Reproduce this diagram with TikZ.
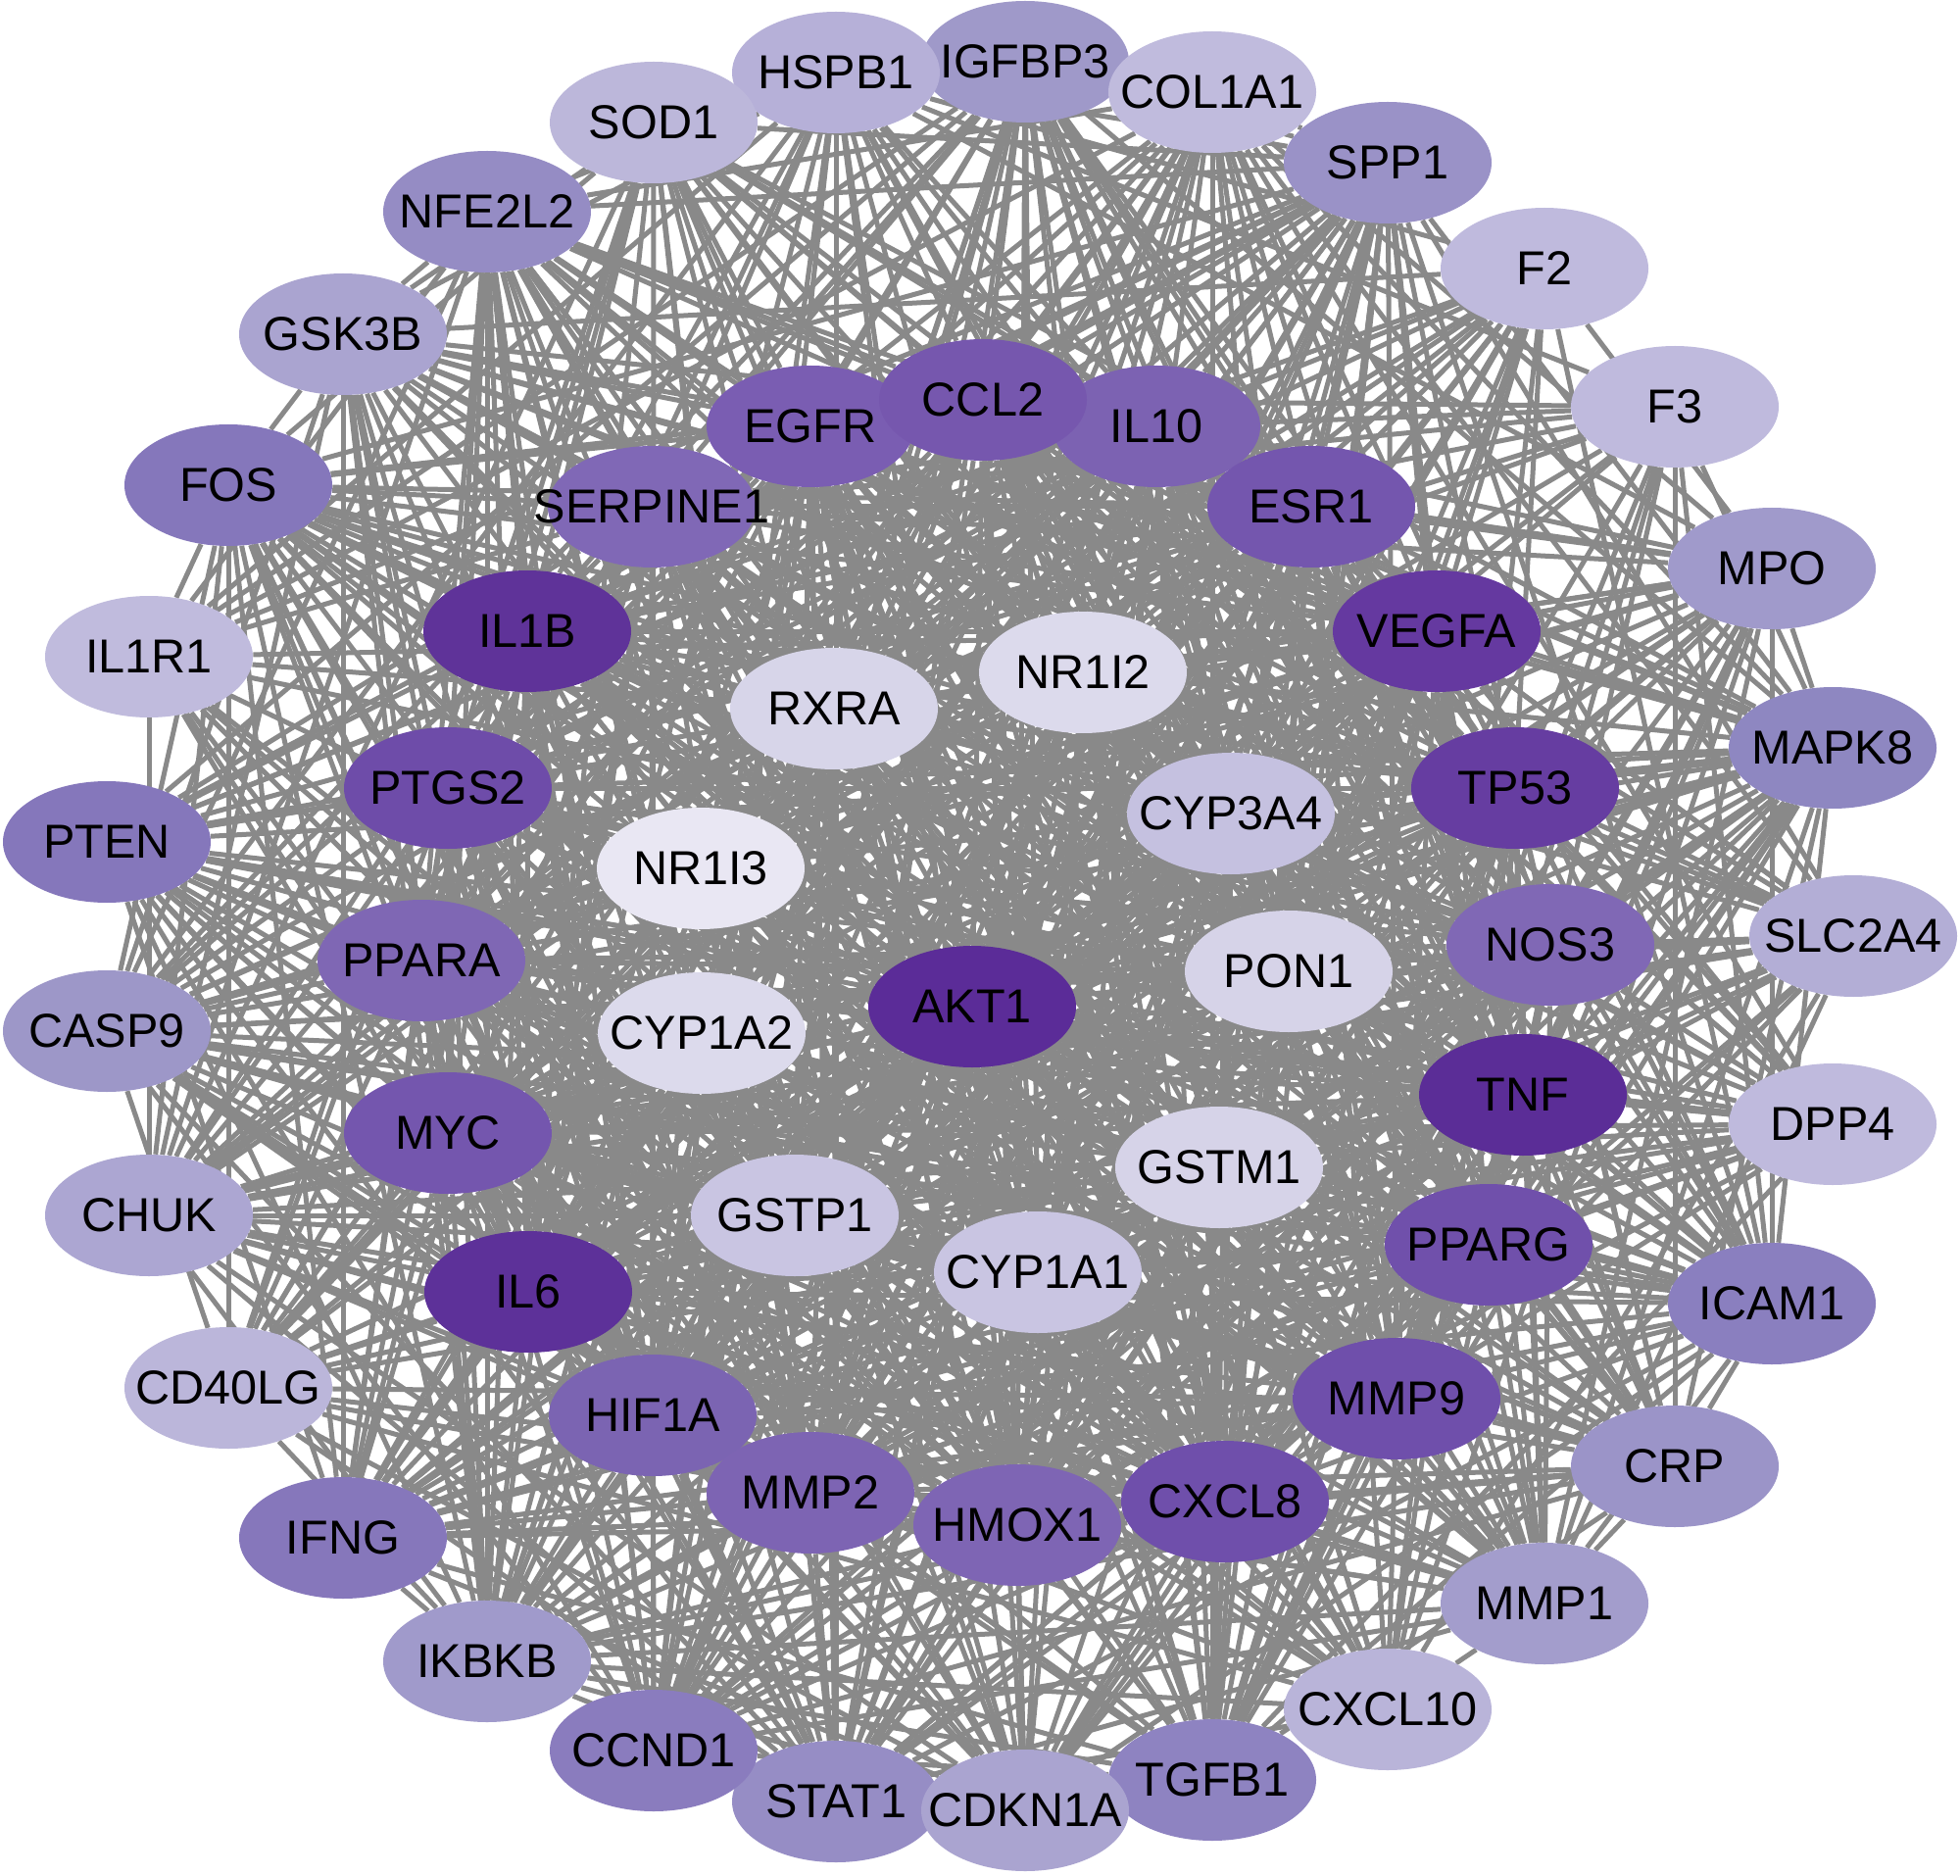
\documentclass[tikz,border=0pt]{standalone}
\usepackage{fontspec}
\setmainfont{Liberation Sans}
\usetikzlibrary{shapes.geometric}
\pgfdeclarelayer{bgfill}
\pgfdeclarelayer{edges}
\pgfsetlayers{bgfill,edges,main}
\tikzset{
  gn/.style={ellipse, minimum width=106pt, minimum height=62pt, inner sep=0pt,
    draw=none, font=\fontsize{24.3}{29}\selectfont, text=black},
  edge/.style={draw=edgegray, line width=2.5pt}
}
\definecolor{edgegray}{HTML}{898989}
\newcommand\gnode[4]{\definecolor{col#1}{HTML}{#4}\node[gn,fill=col#1] (#1) at (#2,#3) {\makebox[0pt]{#1}};}
\def\nodelist{AKT1/1.0,TNF/1.0,IL6/1.0,IL1B/1.0,VEGFA/1.0,TP53/1.0,PTGS2/0.98,CXCL8/0.98,MMP9/0.98,PPARG/0.97,ESR1/0.96,CCL2/0.96,EGFR/0.96,IL10/0.96,MYC/0.96,HIF1A/0.95,NOS3/0.94,SERPINE1/0.93,MMP2/0.93,HMOX1/0.93,PPARA/0.92,FOS/0.84,PTEN/0.84,CCND1/0.84,IFNG/0.84,TGFB1/0.82,ICAM1/0.82,STAT1/0.8,NFE2L2/0.8,SPP1/0.78,MAPK8/0.78,IGFBP3/0.76,CRP/0.76,MMP1/0.74,IKBKB/0.74,CASP9/0.72,MPO/0.7,GSK3B/0.68,CHUK/0.66,HSPB1/0.66,CDKN1A/0.66,CXCL10/0.62,SLC2A4/0.55,COL1A1/0.6,SOD1/0.6,IL1R1/0.55,CD40LG/0.58,F2/0.5,F3/0.5,DPP4/0.52,CYP3A4/0.6,CYP1A1/0.6,GSTP1/0.58,RXRA/0.55,CYP1A2/0.52,NR1I2/0.52,PON1/0.52,GSTM1/0.5,NR1I3/0.45}
\begin{document}
\begin{tikzpicture}[x=0.5pt,y=-0.5pt]
\begin{pgfonlayer}{bgfill}
\fill[white] (0,0) rectangle (2000,1914);
\end{pgfonlayer}
\useasboundingbox (0,0) rectangle (2000,1914);
% outer ring
\gnode{SLC2A4}{1891}{955}{B3AED6}
\gnode{MAPK8}{1870}{763}{8E87C1}
\gnode{MPO}{1808}{580}{A09ACB}
\gnode{F3}{1709}{415}{BFBADD}
\gnode{F2}{1576}{274}{BFBADD}
\gnode{SPP1}{1416}{166}{9A92C7}
\gnode{IGFBP3}{1046}{63}{9F99C9}
\gnode{COL1A1}{1237}{94}{C0BBDD}
\gnode{HSPB1}{853}{74}{B6B0D8}
\gnode{SOD1}{667}{125}{BCB7DA}
\gnode{NFE2L2}{497}{216}{958CC4}
\gnode{GSK3B}{350}{341}{AAA4D0}
\gnode{FOS}{233}{495}{8577BB}
\gnode{IL1R1}{152}{670}{C0BBDD}
\gnode{PTEN}{109}{859}{8577BB}
\gnode{CASP9}{109}{1052}{9D97C8}
\gnode{CHUK}{152}{1240}{ACA6D2}
\gnode{CD40LG}{233}{1416}{BBB6DA}
\gnode{IFNG}{350}{1569}{8677BB}
\gnode{IKBKB}{497}{1695}{A09ACB}
\gnode{STAT1}{853}{1838}{968DC5}
\gnode{CCND1}{667}{1786}{8A7CBE}
\gnode{TGFB1}{1237}{1816}{8E83C1}
\gnode{CDKN1A}{1046}{1847}{AAA4D0}
\gnode{CXCL10}{1416}{1744}{B9B4D9}
\gnode{MMP1}{1576}{1636}{A39DCC}
\gnode{CRP}{1709}{1496}{9B94C8}
\gnode{ICAM1}{1808}{1330}{8A7FBF}
\gnode{DPP4}{1870}{1147}{BFBADD}
% middle ring
\gnode{SERPINE1}{665}{517}{8068B6}
\gnode{EGFR}{827}{435}{7A5DB2}
\gnode{IL10}{1180}{435}{7C62B2}
\gnode{CCL2}{1003}{408}{7657AE}
\gnode{ESR1}{1338}{517}{7456AE}
\gnode{IL1B}{538}{644}{5F3399}
\gnode{VEGFA}{1466}{644}{6539A0}
\gnode{PTGS2}{457}{804}{6E4CA9}
\gnode{TP53}{1546}{804}{663DA1}
\gnode{PPARA}{430}{980}{7F67B4}
\gnode{NOS3}{1582}{964}{8068B5}
\gnode{MYC}{457}{1156}{7456AE}
\gnode{TNF}{1554}{1117}{5B2D97}
\gnode{IL6}{539}{1318}{5D3199}
\gnode{PPARG}{1519}{1270}{7050AB}
\gnode{HIF1A}{666}{1444}{7B64B2}
\gnode{MMP9}{1425}{1427}{6F4FAB}
\gnode{MMP2}{827}{1523}{7D64B3}
\gnode{CXCL8}{1250}{1532}{6F4FAB}
\gnode{HMOX1}{1038}{1556}{7E65B4}
% inner
\gnode{RXRA}{851}{723}{D7D5E9}
\gnode{NR1I2}{1105}{686}{DCDAEC}
\gnode{CYP3A4}{1256}{830}{C5C1E0}
\gnode{NR1I3}{715}{886}{E9E7F3}
\gnode{PON1}{1315}{991}{D6D3E8}
\gnode{CYP1A2}{716}{1054}{DCDAEC}
\gnode{GSTM1}{1244}{1191}{D6D3E8}
\gnode{GSTP1}{811}{1240}{C9C5E2}
\gnode{CYP1A1}{1059}{1298}{C9C5E2}
\gnode{AKT1}{992}{1027}{5B2C98}
% edges
\begin{pgfonlayer}{edges}
\pgfmathsetseed{7}
\foreach \a/\wa [count=\i] in \nodelist {
  \foreach \b/\wb [count=\j] in \nodelist {
    \ifnum\j>\i
      \pgfmathsetmacro\rv{rnd}
      \pgfmathtruncatemacro\ok{\rv<\wa*\wb?1:0}
      \ifnum\ok=1 \draw[edge] (\a) -- (\b); \fi
    \fi
  }
}
\end{pgfonlayer}
\end{tikzpicture}
\end{document}
